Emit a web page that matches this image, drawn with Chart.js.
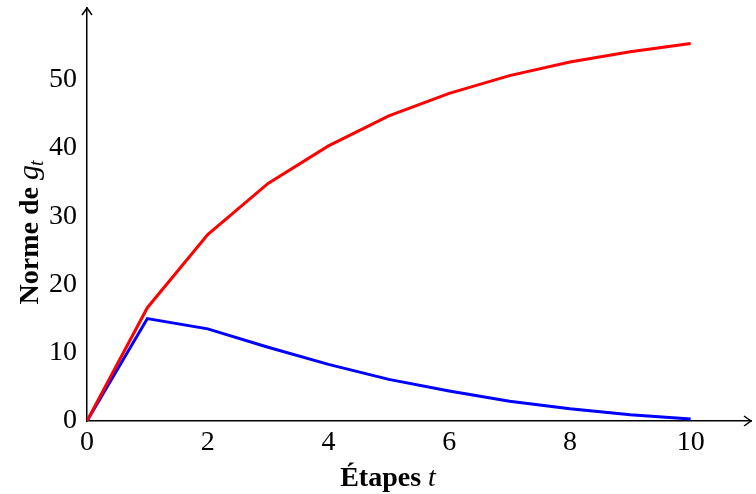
<!DOCTYPE html>
<html>
<head>
<meta charset="utf-8">
<script src="https://cdn.jsdelivr.net/npm/chart.js@4"></script>
<style>
  html, body { margin: 0; padding: 0; background: #fff; }
  #wrap { width: 756px; height: 494px; }
</style>
</head>
<body>
<div id="wrap"><canvas id="chart" width="756" height="494"></canvas></div>
<script>
'use strict';

// valeurs
const steps   = [0, 1, 2, 3, 4, 5, 6, 7, 8, 9, 10];
const redVals = [0, 16.6, 27.3, 34.8, 40.3, 44.7, 48.0, 50.6, 52.6, 54.1, 55.3];
const blueVals = [0, 15.0, 13.5, 10.8, 8.3, 6.1, 4.4, 2.9, 1.8, 0.9, 0.3];
const xTicks = [0, 2, 4, 6, 8, 10];
const yTicks = [0, 10, 20, 30, 40, 50];

const SERIF = '"Liberation Serif", "DejaVu Serif", serif';

const pts = vals => steps.map((s, i) => ({ x: s, y: vals[i] }));

// titres + flèches des axes
const axisDecor = {
  id: 'axisDecor',
  afterDraw(chart) {
    const { ctx, chartArea: a, scales: { x, y } } = chart;
    const x0 = x.getPixelForValue(0), y0 = y.getPixelForValue(0);
    ctx.save();
    ctx.strokeStyle = '#000';
    ctx.lineWidth = 1.5;
    // flèche haut
    ctx.beginPath();
    ctx.moveTo(x0 - 5, a.top + 7); ctx.lineTo(x0, a.top); ctx.lineTo(x0 + 5, a.top + 7);
    ctx.stroke();
    // flèche droite
    ctx.beginPath();
    ctx.moveTo(a.right - 7, y0 - 5); ctx.lineTo(a.right, y0); ctx.lineTo(a.right - 7, y0 + 5);
    ctx.stroke();

    ctx.fillStyle = '#000';
    ctx.textBaseline = 'alphabetic';
    // titre x : "Étapes t"
    const bold = 'bold 28px ' + SERIF, ital = 'italic 28px ' + SERIF;
    ctx.font = bold;
    const w1 = ctx.measureText('Étapes ').width;
    ctx.font = ital;
    const w2 = ctx.measureText('t').width;
    let sx = 388 - (w1 + w2) / 2;
    ctx.font = bold; ctx.fillText('Étapes ', sx, 486);
    ctx.font = ital; ctx.fillText('t', sx + w1, 486);

    // titre y : "Norme de g_t"
    ctx.translate(38, 232);
    ctx.rotate(-Math.PI / 2);
    ctx.font = bold;
    const n1 = ctx.measureText('Norme de ').width;
    ctx.font = 'italic 30px ' + SERIF;
    const n2 = ctx.measureText('g').width;
    ctx.font = 'italic 20px ' + SERIF;
    const n3 = ctx.measureText('t').width;
    sx = -(n1 + n2 + n3) / 2;
    ctx.font = bold; ctx.fillText('Norme de ', sx, 0);
    ctx.font = 'italic 30px ' + SERIF; ctx.fillText('g', sx + n1, 0);
    ctx.font = 'italic 20px ' + SERIF; ctx.fillText('t', sx + n1 + n2 - 1, 5);
    ctx.restore();
  }
};

new Chart(document.getElementById('chart'), {
  type: 'line',
  data: {
    datasets: [
      { data: pts(redVals), borderColor: '#ff0000', borderWidth: 3, pointRadius: 0, tension: 0, fill: false },
      { data: pts(blueVals), borderColor: '#0000ff', borderWidth: 3, pointRadius: 0, tension: 0, fill: false }
    ]
  },
  options: {
    responsive: false,
    animation: false,
    layout: { padding: { top: 8, right: 5, left: 0, bottom: 0 } },
    plugins: { legend: { display: false }, tooltip: { enabled: false } },
    scales: {
      x: {
        type: 'linear', min: 0, max: 11,
        grid: { display: false, drawTicks: false },
        border: { display: true, color: '#000', width: 1.5 },
        afterBuildTicks: s => { s.ticks = xTicks.map(v => ({ value: v })); },
        afterFit: s => { s.height = 73; s.paddingLeft = 0; s.paddingRight = 0; },
        ticks: { color: '#000', padding: 5, maxRotation: 0, font: { family: SERIF, size: 28 } }
      },
      y: {
        type: 'linear', min: 0, max: 60.5,
        grid: { display: false, drawTicks: false },
        border: { display: true, color: '#000', width: 1.5 },
        afterBuildTicks: s => { s.ticks = yTicks.map(v => ({ value: v })); },
        afterFit: s => { s.width = 87; s.paddingTop = 0; s.paddingBottom = 0; },
        ticks: { color: '#000', padding: 10, font: { family: SERIF, size: 28 } }
      }
    }
  },
  plugins: [axisDecor]
});
</script>
</body>
</html>
